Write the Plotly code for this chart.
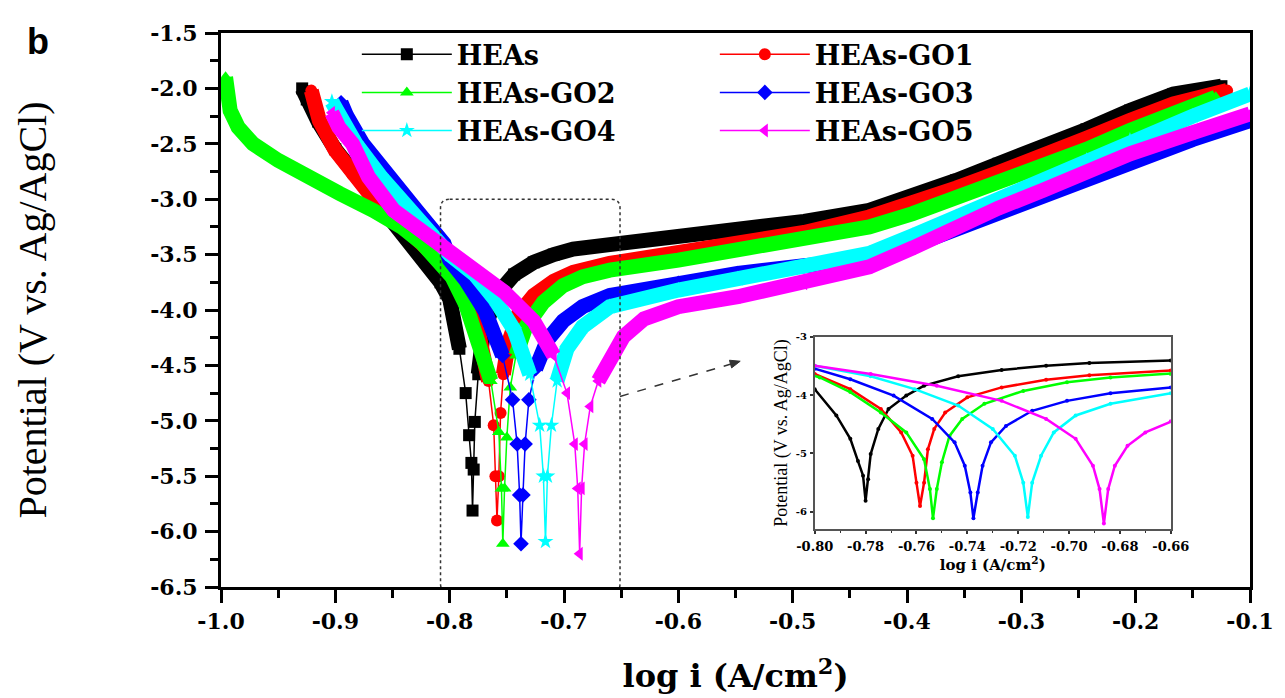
import numpy as np
import plotly.graph_objects as go

# ---------------- data ----------------
series_names = ["HEAs", "HEAs-GO1", "HEAs-GO2", "HEAs-GO3", "HEAs-GO4", "HEAs-GO5"]
colors = ["#000000", "#FF0000", "#00FF00", "#0000FF", "#00FFFF", "#FF00FF"]
symbols = ["square", "circle", "triangle-up", "diamond", "star", "triangle-left"]

heas_x = [-0.929, -0.925, -0.915, -0.900, -0.880, -0.860, -0.840, -0.820, -0.808, -0.800,
          -0.7915, -0.786, -0.783, -0.781, -0.780, -0.779, -0.778, -0.775, -0.771, -0.764,
          -0.757, -0.7436, -0.7265, -0.709, -0.692, -0.660, -0.600, -0.548, -0.490, -0.433,
          -0.395, -0.357, -0.320, -0.281, -0.243, -0.205, -0.167, -0.125]
heas_y = [-2.00, -2.10, -2.30, -2.55, -2.80, -3.05, -3.30, -3.55, -3.75, -3.90,
          -4.35, -4.75, -5.13, -5.38, -5.81, -5.44, -5.01, -4.58, -4.24, -4.01,
          -3.84, -3.68, -3.57, -3.50, -3.45, -3.41, -3.34, -3.28, -3.20, -3.10,
          -2.98, -2.83, -2.68, -2.53, -2.37, -2.20, -2.05, -1.98]

go1_x = [-0.921, -0.914, -0.900, -0.885, -0.868, -0.850, -0.830, -0.810, -0.800, -0.786,
         -0.774, -0.766, -0.7615, -0.760, -0.7586, -0.757, -0.7555, -0.753, -0.7487, -0.740,
         -0.7265, -0.709, -0.692, -0.660, -0.600, -0.550, -0.490, -0.433, -0.395, -0.357,
         -0.320, -0.281, -0.243, -0.205, -0.167, -0.120]
go1_y = [-2.02, -2.29, -2.56, -2.78, -2.98, -3.15, -3.35, -3.55, -3.64, -3.90,
         -4.24, -4.64, -5.04, -5.50, -5.90, -5.50, -4.93, -4.58, -4.30, -4.04,
         -3.87, -3.74, -3.66, -3.58, -3.48, -3.40, -3.30, -3.16, -3.04, -2.90,
         -2.76, -2.62, -2.45, -2.29, -2.14, -2.02]

go2_x = [-0.996, -0.994, -0.992, -0.985, -0.972, -0.950, -0.925, -0.896, -0.867, -0.842,
         -0.824, -0.809, -0.798, -0.786, -0.774, -0.764, -0.757, -0.7547, -0.7535, -0.752,
         -0.750, -0.747, -0.742, -0.7333, -0.718, -0.7008, -0.6837, -0.660, -0.600, -0.548,
         -0.490, -0.433, -0.395, -0.357, -0.320, -0.281, -0.243, -0.205, -0.167, -0.130]
go2_y = [-1.90, -2.05, -2.20, -2.35, -2.50, -2.65, -2.80, -2.95, -3.10, -3.25,
         -3.40, -3.55, -3.70, -3.95, -4.30, -4.64, -5.10, -5.61, -6.11, -5.61,
         -5.15, -4.70, -4.41, -4.15, -3.93, -3.78, -3.70, -3.64, -3.55, -3.46,
         -3.36, -3.25, -3.13, -2.99, -2.85, -2.71, -2.55, -2.38, -2.22, -2.08]

go3_x = [-0.895, -0.890, -0.876, -0.854, -0.829, -0.805, -0.800, -0.786, -0.769, -0.7538,
         -0.745, -0.741, -0.7388, -0.7376, -0.7359, -0.734, -0.7307, -0.7248, -0.7145, -0.7008,
         -0.6837, -0.660, -0.600, -0.548, -0.490, -0.433, -0.395, -0.357, -0.320, -0.281,
         -0.243, -0.205, -0.150, -0.100]
go3_y = [-2.13, -2.25, -2.50, -2.80, -3.10, -3.40, -3.55, -3.73, -4.01, -4.41,
         -4.81, -5.21, -5.67, -6.11, -5.67, -5.21, -4.81, -4.53, -4.27, -4.10,
         -3.97, -3.87, -3.76, -3.67, -3.60, -3.55, -3.42, -3.27, -3.12, -2.97,
         -2.82, -2.66, -2.46, -2.29]

go4_x = [-0.903, -0.897, -0.882, -0.860, -0.836, -0.814, -0.800, -0.778, -0.7607, -0.7436,
         -0.730, -0.7213, -0.718, -0.7162, -0.7145, -0.711, -0.706, -0.6974, -0.6837, -0.660,
         -0.600, -0.548, -0.490, -0.433, -0.395, -0.357, -0.320, -0.281, -0.243, -0.205,
         -0.150, -0.100]
go4_y = [-2.12, -2.25, -2.50, -2.80, -3.10, -3.35, -3.50, -3.68, -3.90, -4.18,
         -4.58, -5.04, -5.50, -6.09, -5.50, -5.04, -4.64, -4.35, -4.15, -3.97,
         -3.82, -3.72, -3.62, -3.49, -3.33, -3.16, -3.00, -2.83, -2.65, -2.47,
         -2.25, -2.05]

go5_x = [-0.903, -0.897, -0.885, -0.871, -0.849, -0.825, -0.809, -0.800, -0.778, -0.752,
         -0.7265, -0.709, -0.6974, -0.6906, -0.688, -0.6863, -0.6846, -0.682, -0.677, -0.670,
         -0.660, -0.648, -0.630, -0.600, -0.548, -0.490, -0.433, -0.395, -0.357, -0.320,
         -0.281, -0.243, -0.205, -0.150, -0.100]
go5_y = [-2.22, -2.35, -2.50, -2.80, -3.10, -3.28, -3.40, -3.50, -3.64, -3.84,
         -4.10, -4.41, -4.75, -5.21, -5.61, -6.20, -5.61, -5.21, -4.87, -4.64,
         -4.45, -4.24, -4.08, -3.97, -3.88, -3.76, -3.61, -3.44, -3.25, -3.08,
         -2.92, -2.75, -2.59, -2.40, -2.23]

series_x = [heas_x, go1_x, go2_x, go3_x, go4_x, go5_x]
series_y = [heas_y, go1_y, go2_y, go3_y, go4_y, go5_y]

x_ticks = [-1.0, -0.9, -0.8, -0.7, -0.6, -0.5, -0.4, -0.3, -0.2, -0.1]
x_tick_labels = ["-1.0", "-0.9", "-0.8", "-0.7", "-0.6", "-0.5", "-0.4", "-0.3", "-0.2", "-0.1"]
y_ticks = [-6.5, -6.0, -5.5, -5.0, -4.5, -4.0, -3.5, -3.0, -2.5, -2.0, -1.5]
y_tick_labels = ["-6.5", "-6.0", "-5.5", "-5.0", "-4.5", "-4.0", "-3.5", "-3.0", "-2.5", "-2.0", "-1.5"]
inset_x_ticks = [-0.80, -0.78, -0.76, -0.74, -0.72, -0.70, -0.68, -0.66]
inset_x_tick_labels = ["-0.80", "-0.78", "-0.76", "-0.74", "-0.72", "-0.70", "-0.68", "-0.66"]
inset_y_ticks = [-6, -5, -4, -3]
inset_y_tick_labels = ["-6", "-5", "-4", "-3"]

BAND_LIMIT = -4.7  # below this the markers appear separated

# ---------------- figure ----------------
fig = go.Figure()

for name, c, sym, xs, ys in zip(series_names, colors, symbols, series_x, series_y):
    xs = np.array(xs)
    ys = np.array(ys)
    band_y = np.where(ys > BAND_LIMIT, ys, np.nan)
    fig.add_trace(go.Scatter(x=xs, y=band_y, mode="lines", line=dict(color=c, width=15),
                             connectgaps=False, showlegend=False, hoverinfo="skip"))
    fig.add_trace(go.Scatter(x=xs, y=ys, mode="lines+markers", name=name,
                             line=dict(color=c, width=1.5),
                             marker=dict(symbol=sym, size=12, color=c, line=dict(width=0))))

for name, c, sym, xs, ys in zip(series_names, colors, symbols, series_x, series_y):
    fig.add_trace(go.Scatter(x=xs, y=ys, mode="lines+markers", xaxis="x2", yaxis="y2",
                             line=dict(color=c, width=2.5),
                             marker=dict(symbol="circle", size=4, color=c),
                             showlegend=False, hoverinfo="skip"))

serif_b = dict(family="DejaVu Serif", color="black", weight="bold")

fig.update_layout(
    width=1285, height=698,
    margin=dict(l=213, r=43, t=22, b=119),
    paper_bgcolor="white", plot_bgcolor="white",
    showlegend=True,
    legend=dict(orientation="h", x=0.132, y=1.005, xanchor="left", yanchor="top",
                bgcolor="rgba(0,0,0,0)", font=dict(size=27, **serif_b),
                entrywidth=253, entrywidthmode="pixels", itemwidth=90,
                traceorder="normal", itemsizing="trace"),
    xaxis=dict(range=[-1.0, -0.1], tickvals=x_ticks, ticktext=x_tick_labels,
               showgrid=False, zeroline=False, showline=True, linecolor="black", linewidth=3,
               mirror=True, ticks="outside", ticklen=13, tickwidth=3, tickcolor="black",
               minor=dict(dtick=0.05, ticks="outside", ticklen=8, tickwidth=3, tickcolor="black"),
               tickfont=dict(size=22, **serif_b), ticklabelstandoff=0,
               title=dict(text="log i (A/cm<sup>2</sup>)", font=dict(size=32, **serif_b), standoff=32)),
    yaxis=dict(range=[-6.5, -1.5], tickvals=y_ticks, ticktext=y_tick_labels,
               showgrid=False, zeroline=False, showline=True, linecolor="black", linewidth=3,
               mirror=True, ticks="outside", ticklen=13, tickwidth=3, tickcolor="black",
               minor=dict(dtick=0.25, tick0=-6.5, ticks="outside", ticklen=8, tickwidth=3, tickcolor="black"),
               tickfont=dict(size=22, **serif_b), ticklabelstandoff=3,
               title=dict(text="Potential (V vs. Ag/AgCl)",
                          font=dict(size=40, family="Liberation Serif", color="black"), standoff=92)),
    xaxis2=dict(domain=[0.577, 0.923], anchor="y2", range=[-0.80, -0.66],
                tickvals=inset_x_ticks, ticktext=inset_x_tick_labels,
                showgrid=False, zeroline=False, showline=True, linecolor="#555555", linewidth=1.5,
                mirror=True, ticks="outside", ticklen=3, tickwidth=1.5, tickcolor="#333333",
                minor=dict(dtick=0.01, ticks="outside", ticklen=2, tickwidth=1, tickcolor="#333333"),
                tickfont=dict(size=13, **serif_b), ticklabelstandoff=1,
                title=dict(text="log i (A/cm<sup>2</sup>)", font=dict(size=15, **serif_b), standoff=3)),
    yaxis2=dict(domain=[0.104, 0.452], anchor="x2", range=[-6.3, -3.0],
                tickvals=inset_y_ticks, ticktext=inset_y_tick_labels,
                showgrid=False, zeroline=False, showline=True, linecolor="#555555", linewidth=1.5,
                mirror=True, ticks="outside", ticklen=3, tickwidth=1.5, tickcolor="#333333",
                tickfont=dict(size=10, **serif_b), ticklabelstandoff=1,
                title=dict(text="Potential (V vs. Ag/AgCl)",
                           font=dict(size=18, family="Liberation Serif", color="black"), standoff=4)),
)

# dashed zoom box (rounded) and dashed arrow to the inset
bx0, bx1, by0, by1 = -0.808, -0.651, -6.55, -3.0
rx, ry = 0.008, 0.08
box_path = (f"M{bx0+rx},{by1} L{bx1-rx},{by1} Q{bx1},{by1} {bx1},{by1-ry} "
            f"L{bx1},{by0+ry} Q{bx1},{by0} {bx1-rx},{by0} L{bx0+rx},{by0} "
            f"Q{bx0},{by0} {bx0},{by0+ry} L{bx0},{by1-ry} Q{bx0},{by1} {bx0+rx},{by1} Z")
fig.add_shape(type="path", path=box_path, xref="x", yref="y",
              line=dict(color="#333333", width=1.5, dash="dot"))
fig.add_shape(type="line", xref="x", yref="y", x0=-0.651, y0=-4.78, x1=-0.5540, y1=-4.488,
              line=dict(color="#333333", width=1.5, dash="dash"))
fig.add_shape(type="path", xref="x", yref="y",
              path="M-0.5459,-4.4623 L-0.5534,-4.5224 L-0.5553,-4.4533 Z",
              line=dict(color="#333333", width=1), fillcolor="#333333")

fig.add_annotation(text="b", xref="paper", yref="paper", x=-0.19, y=1.025,
                   xanchor="left", yanchor="top", showarrow=False,
                   font=dict(family="Liberation Sans", size=36, color="black", weight="bold"))

fig.write_html("out.html")
